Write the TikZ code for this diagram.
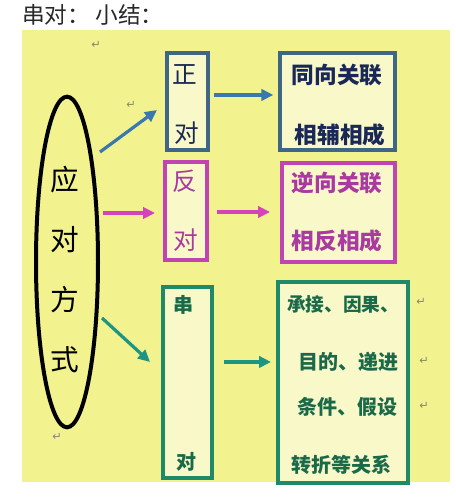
\documentclass[tikz,border=0pt]{standalone}
\usepackage{fontspec}
\setmainfont{Liberation Sans}
\newfontfamily\cjk{Noto Sans CJK SC}
\newfontfamily\symf{DejaVu Sans}
\usetikzlibrary{arrows.meta,shapes.geometric}
\definecolor{ybg}{HTML}{F2F28E}
\definecolor{yin}{HTML}{F8F8C8}
\definecolor{bbox}{HTML}{3F6685}
\definecolor{mbox}{HTML}{C044B4}
\definecolor{gbox}{HTML}{1E8A68}
\definecolor{barr}{HTML}{3A78B0}
\definecolor{marr}{HTML}{D444B8}
\definecolor{garr}{HTML}{1E9482}
\definecolor{btxt}{HTML}{1A2858}
\definecolor{mtxt}{HTML}{A83AA0}
\definecolor{gtxt}{HTML}{1A6A4A}
\definecolor{rmark}{HTML}{8A8A6A}
\tikzset{
  box/.style={draw, line width=3pt, inner sep=0pt},
  ch/.style={font=\cjk\fontsize{18.5pt}{20pt}\selectfont, inner sep=0pt},
  sch/.style={font=\cjk\bfseries\fontsize{15pt}{17pt}\selectfont, inner sep=0pt},
  ech/.style={font=\cjk\fontsize{21.5pt}{23pt}\selectfont, inner sep=0pt},
  rt/.style={font=\cjk\bfseries\fontsize{17pt}{19pt}\selectfont, inner sep=0pt},
  gt/.style={font=\cjk\bfseries\fontsize{15pt}{17pt}\selectfont, inner sep=0pt},
  arr/.style={line width=2.4pt, -{Triangle[length=9pt,width=8.5pt]}},
  ret/.style={font=\symf\fontsize{8.5pt}{9pt}\selectfont, text=rmark, inner sep=0pt}
}
\begin{document}
\begin{tikzpicture}[x=0.75pt,y=-0.75pt]
\useasboundingbox (0,0) rectangle (455,500);
\fill[white] (0,0) rectangle (455,500);
% background
\fill[ybg] (22,30) rectangle (450,482);
% title
\node[anchor=base west, font=\cjk\fontsize{17pt}{19pt}\selectfont, text={rgb,255:red,40;green,40;blue,40}, inner sep=0pt] (title) at (22,23) {串对： 小结：};
% ellipse
\node[ellipse, draw, line width=3pt, minimum width=46.5pt, minimum height=248pt, inner sep=0pt] (ell) at (67,262) {};
\node[ech] (e1) at (65,180) {应};
\node[ech] (e2) at (65,240) {对};
\node[ech] (e3) at (65,300) {方};
\node[ech] (e4) at (65,360) {式};
% left boxes
\node[box, draw=bbox, fill=yin, minimum width=30.75pt, minimum height=72.75pt] (p1) at (187.5,101.5) {};
\node[box, draw=mbox, fill=yin, minimum width=31.5pt, minimum height=73.5pt] (p2) at (186,211) {};
\node[box, draw=gbox, fill=yin, minimum width=36.75pt, minimum height=143.25pt] (p3) at (187.5,382.5) {};
\node[ch, text=btxt] (p1a) at (185,74) {正};
\node[ch, text=btxt] (p1b) at (187,133) {对};
\node[ch, text=mtxt] (p2a) at (185,181) {反};
\node[ch, text=mtxt] (p2b) at (186,240) {对};
\node[sch, text=gtxt] (p3a) at (183,305) {串};
\node[sch, text=gtxt] (p3b) at (186,462) {对};
% right boxes
\node[box, draw=bbox, fill=yin, minimum width=86.25pt, minimum height=72.75pt] (r1) at (337.5,101.5) {};
\node[box, draw=mbox, fill=yin, minimum width=84.75pt, minimum height=74.25pt] (r2) at (338.5,212.5) {};
\node[box, draw=gbox, fill=yin, minimum width=97.5pt, minimum height=150.75pt] (r3) at (343,382.5) {};
\node[rt, text=btxt] (r1a) at (337,75) {同向关联};
\node[rt, text=btxt] (r1b) at (340,135) {相辅相成};
\node[rt, text=mtxt] (r2a) at (337,183) {逆向关联};
\node[rt, text=mtxt] (r2b) at (337,241) {相反相成};
\node[gt, text=gtxt, anchor=west, font=\cjk\bfseries\fontsize{14pt}{16pt}\selectfont] (r3a) at (287,304) {承接、因果、};
\node[gt, text=gtxt] (r3b) at (348,362) {目的、递进};
\node[gt, text=gtxt] (r3c) at (347,407) {条件、假设};
\node[gt, text=gtxt] (r3d) at (341,465) {转折等关系};
% return marks
\node[ret] (m1) at (96,45) {↵};
\node[ret] (m2) at (131,105) {↵};
\node[ret] (m3) at (57,437) {↵};
\node[ret] (m4) at (421,302) {↵};
\node[ret] (m5) at (424,361) {↵};
\node[ret] (m6) at (424,406) {↵};
% arrows from ellipse
\coordinate (s1) at (100,152);
\coordinate (s2) at (103,213);
\coordinate (s3) at (102,318);
\coordinate (t1) at (157,110);
\coordinate (t3) at (150,362);
\draw[arr, draw=barr, fill=barr] (s1) -- (t1);
\draw[arr, draw=marr, fill=marr, shorten >=6pt] (s2) -- (s2 -| p2.west);
\draw[arr, draw=garr, fill=garr] (s3) -- (t3);
% arrows between boxes
\coordinate (b1) at ([yshift=4.9pt]p1.east);
\coordinate (b2) at ([yshift=-0.75pt]p2.east);
\coordinate (b3) at ([yshift=15.4pt]p3.east);
\draw[arr, draw=barr, fill=barr, shorten <=3pt, shorten >=3.5pt] (b1) -- (b1 -| r1.west);
\draw[arr, draw=marr, fill=marr, shorten <=6pt, shorten >=7.5pt] (b2) -- (b2 -| r2.west);
\draw[arr, draw=garr, fill=garr, shorten <=7.5pt, shorten >=3.75pt] (b3) -- (b3 -| r3.west);
\end{tikzpicture}
\end{document}
